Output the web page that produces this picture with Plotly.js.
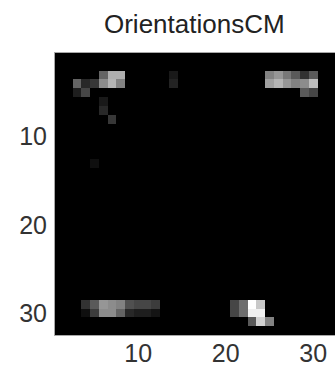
<!DOCTYPE html>
<html>
<head>
<meta charset="utf-8">
<script src="https://cdn.plot.ly/plotly-3.0.1.min.js"></script>
<style>html,body{margin:0;padding:0;background:#fff;}#chart{width:335px;height:369px;}</style>
</head>
<body>
<div id="chart"></div>
<script>
// Grid size (32 x 32 image), non-zero cells listed sparsely
var gridSize = 32;
var cellRows = [3,3,3,3,3,3,3,3,3,3,
                4,4,4,4,4,4,4,4,4,4,4,4,4,
                5,5,5,5,
                6,7,8,13,
                29,29,29,29,29,29,29,29,29,29,29,29,29,
                30,30,30,30,30,30,30,30,30,30,30,30,30,
                31,31,31];
var cellCols = [6,7,8,14,25,26,27,28,29,30,
                3,4,5,6,7,8,14,25,26,27,28,29,30,
                3,4,29,30,
                6,6,7,5,
                4,5,6,7,8,9,10,11,12,21,22,23,24,
                4,5,6,7,8,9,10,11,12,21,22,23,24,
                23,24,25];
var cellValues = [100,175,175,25,130,150,120,90,50,90,
                  100,40,55,140,180,130,35,160,180,150,130,140,190,
                  30,70,90,70,
                  25,40,55,15,
                  50,90,150,140,130,80,70,70,60,70,110,255,200,
                  15,60,140,140,100,40,30,30,20,70,110,240,240,
                  90,210,130];
var tickVals = [10,20,30];
var tickText = ['10','20','30'];

var xs = [], ys = [], z = [];
for (var i = 1; i <= gridSize; i++) { xs.push(i); ys.push(i); }
for (var r = 0; r < gridSize; r++) { var row = []; for (var c = 0; c < gridSize; c++) row.push(0); z.push(row); }
for (var k = 0; k < cellValues.length; k++) { z[cellRows[k]-1][cellCols[k]-1] = cellValues[k]; }

var trace = {
  type: 'heatmap', x: xs, y: ys, z: z,
  zmin: 0, zmax: 255, zsmooth: false,
  colorscale: [[0,'#000000'],[1,'#ffffff']],
  showscale: false, hoverinfo: 'skip'
};
var fontFam = '"Liberation Sans", Arial, sans-serif';
var layout = {
  width: 335, height: 369,
  margin: {l: 55, r: 0, t: 53, b: 34, pad: 0},
  paper_bgcolor: '#ffffff', plot_bgcolor: '#000000',
  title: {text: 'OrientationsCM', font: {family: fontFam, size: 26, color: '#222'}, x: 0.58, xanchor: 'center', y: 0.935, yanchor: 'middle'},
  xaxis: {range: [0.5, 32.5], tickvals: tickVals, ticktext: tickText, ticks: '', showgrid: false, zeroline: false,
          showline: true, mirror: true, linecolor: '#a8a8a8', linewidth: 1, ticklabelstandoff: -4,
          tickfont: {family: fontFam, size: 25, color: '#333'}},
  yaxis: {range: [32.5, 0.5], tickvals: tickVals, ticktext: tickText, ticks: '', showgrid: false, zeroline: false,
          showline: true, mirror: true, linecolor: '#a8a8a8', linewidth: 1,
          tickfont: {family: fontFam, size: 25, color: '#333'}, ticklabelstandoff: 2}
};
Plotly.newPlot('chart', [trace], layout, {displayModeBar: false, staticPlot: true});
</script>
</body>
</html>
